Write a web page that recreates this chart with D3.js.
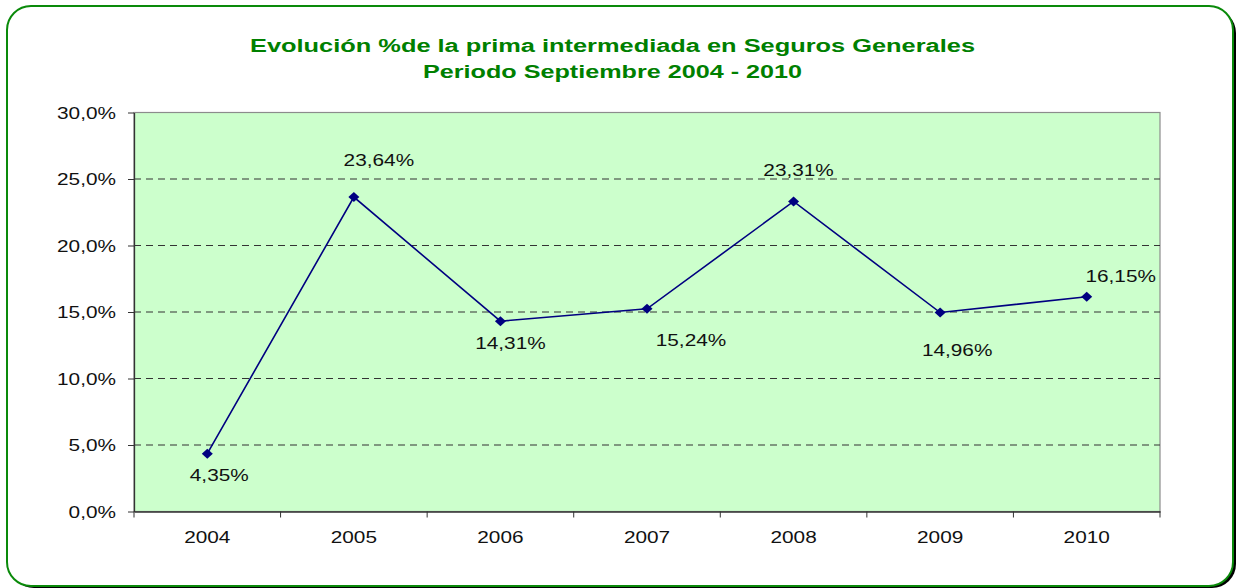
<!DOCTYPE html>
<html>
<head>
<meta charset="utf-8">
<script src="https://cdn.jsdelivr.net/npm/d3@7"></script>
<style>
  html, body { margin: 0; padding: 0; background: #fff; }
  svg { display: block; }
  text { font-family: "Liberation Sans", Arial, sans-serif; }
</style>
</head>
<body>
<svg id="chart" width="1243" height="588"></svg>
<script>
const years = ["2004", "2005", "2006", "2007", "2008", "2009", "2010"];
const values = [0.0435, 0.2364, 0.1431, 0.1524, 0.2331, 0.1496, 0.1615];
const valueLabels = ["4,35%", "23,64%", "14,31%", "15,24%", "23,31%", "14,96%", "16,15%"];
const yTicks = [0, 0.05, 0.10, 0.15, 0.20, 0.25, 0.30];
const yTickLabels = ["0,0%", "5,0%", "10,0%", "15,0%", "20,0%", "25,0%", "30,0%"];
const titleLines = ["Evolución %de la prima intermediada en Seguros Generales", "Periodo Septiembre 2004 - 2010"];

(function () {
// layout (not data)
const labelOffsets = [[12, 22], [25, -37], [10, 22], [44, 32], [5, -31], [17, 38], [34, -20]];
const SX = 1.3;

const svg = d3.select("#chart");

// frame with shadow
svg.append("rect").attr("x", 10).attr("y", 9).attr("width", 1226).attr("height", 579)
  .attr("rx", 24).attr("fill", "#000");
svg.append("rect").attr("x", 7).attr("y", 6).attr("width", 1226).attr("height", 580)
  .attr("rx", 24).attr("fill", "#fff").attr("stroke", "#0a8a0a").attr("stroke-width", 2);

// title
const titleWidths = [725, 379];
const titleY = [52, 78];
titleLines.forEach((t, i) => {
  svg.append("text")
    .attr("x", 612.5 - titleWidths[i] / 2).attr("y", titleY[i])
    .attr("textLength", titleWidths[i]).attr("lengthAdjust", "spacingAndGlyphs")
    .attr("font-size", 18).attr("font-weight", "bold").attr("fill", "#008000")
    .text(t);
});

const pL = 134, pR = 1160, pT = 112.5, pB = 511.5;
const x = d3.scaleBand().domain(years).range([pL, pR]).padding(0);
const y = d3.scaleLinear().domain([0, 0.30]).range([pB, pT]);

// plot area
svg.append("rect").attr("x", pL).attr("y", pT).attr("width", pR - pL).attr("height", pB - pT)
  .attr("fill", "#ccffcc").attr("stroke", "#8c8c8c").attr("stroke-width", 1.2);

// gridlines
svg.append("g").selectAll("line").data(yTicks.filter(v => v > 0 && v < 0.30)).join("line")
  .attr("x1", pL).attr("x2", pR)
  .attr("y1", d => y(d)).attr("y2", d => y(d))
  .attr("stroke", "#333").attr("stroke-width", 1.2).attr("stroke-dasharray", "7,5");

// y axis
const yAxis = svg.append("g").attr("transform", `translate(${pL},0)`)
  .call(d3.axisLeft(y).tickValues(yTicks).tickFormat((d, i) => yTickLabels[i]).tickSizeInner(6).tickSizeOuter(0));
yAxis.select(".domain").attr("stroke", "#333").attr("stroke-width", 1.3);
yAxis.selectAll(".tick line").attr("stroke", "#333");
yAxis.selectAll(".tick text")
  .attr("x", 0).attr("dy", null).attr("y", 5.5)
  .attr("transform", `translate(-18,0) scale(${SX},1)`)
  .attr("font-size", 16).attr("fill", "#111").attr("font-family", "Liberation Sans, Arial, sans-serif");

// x axis
const xAxis = svg.append("g").attr("transform", `translate(0,${pB})`)
  .call(d3.axisBottom(x).tickSize(0).tickSizeOuter(0));
xAxis.select(".domain").attr("stroke", "#333").attr("stroke-width", 1.3);
xAxis.selectAll(".tick text")
  .attr("y", 0).attr("dy", null)
  .attr("transform", `translate(0,31) scale(${SX},1)`)
  .attr("font-size", 16).attr("fill", "#111").attr("font-family", "Liberation Sans, Arial, sans-serif");
// category boundary ticks
const bounds = years.map(yy => x(yy)).concat([x(years[years.length - 1]) + x.bandwidth()]);
svg.append("g").selectAll("line").data(bounds).join("line")
  .attr("x1", d => d).attr("x2", d => d).attr("y1", pB).attr("y2", pB + 6)
  .attr("stroke", "#333").attr("stroke-width", 1);

const cx = i => x(years[i]) + x.bandwidth() / 2;

// line
svg.append("path")
  .datum(values)
  .attr("d", d3.line().x((d, i) => cx(i)).y(d => y(d)))
  .attr("fill", "none").attr("stroke", "#000080").attr("stroke-width", 1.6);

// markers
svg.append("g").selectAll("path").data(values).join("path")
  .attr("transform", (d, i) => `translate(${cx(i)},${y(d)})`)
  .attr("d", "M0,-5L5.5,0L0,5L-5.5,0Z")
  .attr("fill", "#000080");

// value labels
svg.append("g").selectAll("text").data(values).join("text")
  .attr("transform", (d, i) => `translate(${cx(i) + labelOffsets[i][0]},${y(d) + labelOffsets[i][1] + 5.5}) scale(${SX},1)`)
  .attr("text-anchor", "middle")
  .attr("font-size", 16).attr("fill", "#111")
  .text((d, i) => valueLabels[i]);
})();
</script>
</body>
</html>
